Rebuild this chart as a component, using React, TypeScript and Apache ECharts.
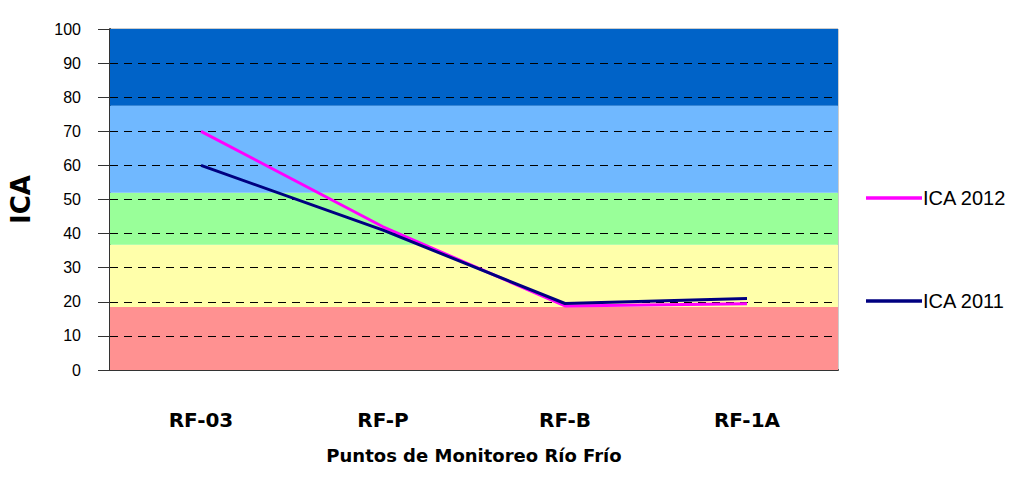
import React, { useEffect, useRef } from "react";
import * as echarts from "echarts";

const categories = ["RF-03", "RF-P", "RF-B", "RF-1A"];
const ica2012 = [70, 42, 18.8, 19.4];
const ica2011 = [60, 41, 19.5, 21];
const bandLimits = [0, 18.5, 36.7, 52, 77.5, 100];
const bandColors = ["#FF9191", "#FFFFAA", "#99FF99", "#70B8FF", "#0063C8"];
const gridValues = [10, 20, 30, 40, 50, 60, 70, 80, 90];

export default function App() {
  const ref = useRef<HTMLDivElement>(null);
  useEffect(() => {
    if (!ref.current) return;
    const chart = echarts.init(ref.current, undefined, { renderer: "svg" });
    const areas = bandColors.map((c, i) => [
      { yAxis: bandLimits[i], itemStyle: { color: c, opacity: 1 } },
      { yAxis: bandLimits[i + 1] },
    ]);
    const lineIcon = "path://M0 0H100V6H0Z";
    chart.setOption({
      animation: false,
      grid: {
        left: 106,
        right: 175,
        top: 29,
        bottom: 121,
        show: true,
        borderColor: "#999",
        borderWidth: 1,
        backgroundColor: "#fff",
      },
      legend: {
        orient: "vertical",
        left: 861,
        top: 183,
        itemWidth: 56,
        itemHeight: 4,
        itemGap: 83,
        data: [
          { name: "ICA 2012", icon: lineIcon },
          { name: "ICA 2011", icon: lineIcon },
        ],
        textStyle: { fontFamily: "Liberation Sans", fontSize: 20, color: "#000", padding: [0, 0, 0, -4] },
      },
      xAxis: {
        type: "category",
        data: categories,
        boundaryGap: true,
        axisLine: { lineStyle: { color: "#333", width: 2 } },
        axisTick: { length: 12, lineStyle: { color: "#000" } },
        axisLabel: {
          margin: 40,
          fontFamily: "DejaVu Sans",
          fontWeight: "bold",
          fontSize: 20,
          color: "#000",
        },
        name: "Puntos de Monitoreo Río Frío",
        nameLocation: "middle",
        nameGap: 76,
        nameTextStyle: {
          fontFamily: "DejaVu Sans",
          fontWeight: "bold",
          fontSize: 18,
          color: "#000",
        },
      },
      yAxis: {
        type: "value",
        min: 0,
        max: 100,
        interval: 10,
        axisLine: { show: true, lineStyle: { color: "#333", width: 2 } },
        axisTick: { show: true, length: 12, lineStyle: { color: "#333" } },
        axisLabel: {
          margin: 29,
          fontFamily: "Liberation Sans",
          fontSize: 16,
          color: "#000",
        },
        splitLine: { show: false },
        name: "ICA",
        nameLocation: "middle",
        nameGap: 76,
        nameTextStyle: {
          fontFamily: "DejaVu Sans",
          fontWeight: "bold",
          fontSize: 26,
          color: "#000",
        },
      },
      series: [
        {
          name: "bands",
          type: "line",
          data: [],
          z: 1,
          silent: true,
          markArea: { silent: true, z: 1, data: areas },
          markLine: {
            silent: true,
            z: 1.5,
            symbol: ["none", "none"],
            label: { show: false },
            lineStyle: { color: "#000", type: [8, 6], width: 1 },
            data: gridValues.map((v) => ({ yAxis: v })),
          },
        },
        {
          name: "ICA 2012",
          type: "line",
          data: ica2012,
          z: 3,
          symbol: "none",
          lineStyle: { color: "#FF00FF", width: 3 },
          itemStyle: { color: "#FF00FF" },
        },
        {
          name: "ICA 2011",
          type: "line",
          data: ica2011,
          z: 4,
          symbol: "none",
          lineStyle: { color: "#000080", width: 3 },
          itemStyle: { color: "#000080" },
        },
      ],
    });
    return () => chart.dispose();
  }, []);
  return <div ref={ref} style={{ width: 1013, height: 491, position: "absolute", left: 0, top: 0 }} />;
}
